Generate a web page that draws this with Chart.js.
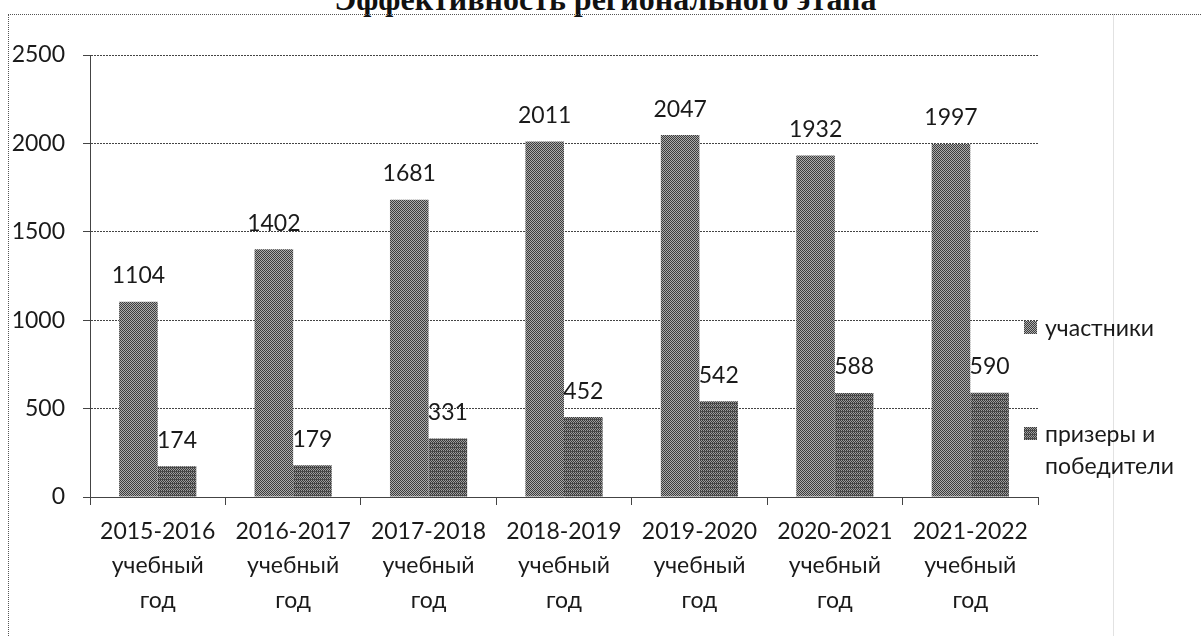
<!DOCTYPE html>
<html>
<head>
<meta charset="utf-8">
<script src="https://cdn.jsdelivr.net/npm/chart.js@4"></script>
<style>
    html, body { margin: 0; padding: 0; background: #fff; }
    #wrap { position: relative; width: 1201px; height: 636px; overflow: hidden; }
    #title {
        position: absolute; left: 0; width: 1201px; top: -19px; text-align: center;
        font: bold 32px "Liberation Serif", "DejaVu Serif", serif; color: #111; line-height: 36px;
        padding-left: 10px; box-sizing: border-box;
    }
    #frame {
        position: absolute; left: 8px; top: 14px; right: 0; bottom: 0;
        border-top: 1px dotted #555; border-left: 1px dotted #555;
    }
    #rline { position: absolute; left: 1113px; top: 14px; bottom: 0; border-left: 1px solid #e2e2e2; }
    #chart { position: absolute; left: 0; top: 0; }
    .leg { position: absolute; left: 1024px; font: 23px Lato, sans-serif; color: #1a1a1a; line-height: 32px; }
    .leg i { position: absolute; left: 0; width: 13px; height: 13px; }
    .leg span { display: block; margin-left: 21px; }
</style>
</head>
<body>
<div id="wrap">
    <div id="title">Эффективность регионального этапа</div>
    <div id="frame"></div>
    <div id="rline"></div>
    <canvas id="chart" width="1201" height="636"></canvas>
    <div class="leg" style="top:311px"><i id="sw0" style="top:10px"></i><span>участники</span></div>
    <div class="leg" style="top:417px"><i id="sw1" style="top:10px"></i><span>призеры и<br>победители</span></div>
</div>
<script>
// ===== DATA =====
const years = ['2015-2016', '2016-2017', '2017-2018', '2018-2019', '2019-2020', '2020-2021', '2021-2022'];
const participants = [1104, 1402, 1681, 2011, 2047, 1932, 1997];
const winners = [174, 179, 331, 452, 542, 588, 590];
const seriesNames = ['участники', 'призеры и победители'];
const yTicks = [0, 500, 1000, 1500, 2000, 2500];

// dithered grey fill, like the scanned print
function makePattern(light, dark, stripe) {
    const c = document.createElement('canvas');
    c.width = 4; c.height = 4;
    const g = c.getContext('2d');
    for (let y = 0; y < 4; y++) {
        for (let x = 0; x < 4; x++) {
            g.fillStyle = (x + y) % 2 ? light : dark;
            if (stripe && y === 3) g.fillStyle = stripe;
            g.fillRect(x, y, 1, 1);
        }
    }
    return c;
}
const tile0 = makePattern('#acacac', '#3c3c3c', null);
const tile1 = makePattern('#9c9c9c', '#3a3a3a', '#4a4a4a');
const ctx = document.getElementById('chart').getContext('2d');
const fill0 = ctx.createPattern(tile0, 'repeat');
const fill1 = ctx.createPattern(tile1, 'repeat');
document.getElementById('sw0').style.background = 'url(' + tile0.toDataURL() + ')';
document.getElementById('sw1').style.background = 'url(' + tile1.toDataURL() + ')';

// value labels above every bar
const valueLabels = {
    id: 'valueLabels',
    afterDatasetsDraw(chart) {
        const c = chart.ctx;
        c.save();
        c.font = '23px Lato, sans-serif';
        c.fillStyle = '#1a1a1a';
        c.textAlign = 'center';
        c.textBaseline = 'middle';
        chart.data.datasets.forEach((ds, i) => {
            chart.getDatasetMeta(i).data.forEach((bar, j) => {
                c.fillText(ds.data[j], bar.x, bar.y - 26);
            });
        });
        c.restore();
    }
};

const gridCol = '#444';
new Chart(ctx, {
    type: 'bar',
    data: {
        labels: years.map(y => [y, 'учебный', 'год']),
        datasets: [
            { label: seriesNames[0], data: participants, backgroundColor: fill0, borderWidth: 0 },
            { label: seriesNames[1], data: winners, backgroundColor: fill1, borderWidth: 0 }
        ]
    },
    options: {
        responsive: false,
        animation: false,
        layout: { padding: { top: 55, right: 163, left: 0, bottom: 0 } },
        datasets: { bar: { categoryPercentage: 0.57, barPercentage: 1.0 } },
        plugins: { legend: { display: false }, tooltip: { enabled: false }, title: { display: false } },
        scales: {
            x: {
                grid: { drawOnChartArea: false, drawTicks: true, tickLength: 8, color: gridCol, offset: true },
                border: { color: gridCol, dash: [2, 1] },
                ticks: { font: { family: 'Lato', size: 23, lineHeight: 1.5 }, color: '#1a1a1a', padding: 9, maxRotation: 0, autoSkip: false },
                afterFit(s) { s.height = 139; }
            },
            y: {
                min: 0, max: 2500,
                afterBuildTicks(s) { s.ticks = yTicks.map(v => ({ value: v })); },
                grid: { color: gridCol, tickLength: 7, lineWidth: 1 },
                border: { color: gridCol, dash: [2, 1] },
                ticks: { font: { family: 'Lato', size: 23 }, color: '#1a1a1a', padding: 18, callback: v => String(v) },
                afterFit(s) { s.width = 90; }
            }
        }
    },
    plugins: [valueLabels]
});
</script>
</body>
</html>
